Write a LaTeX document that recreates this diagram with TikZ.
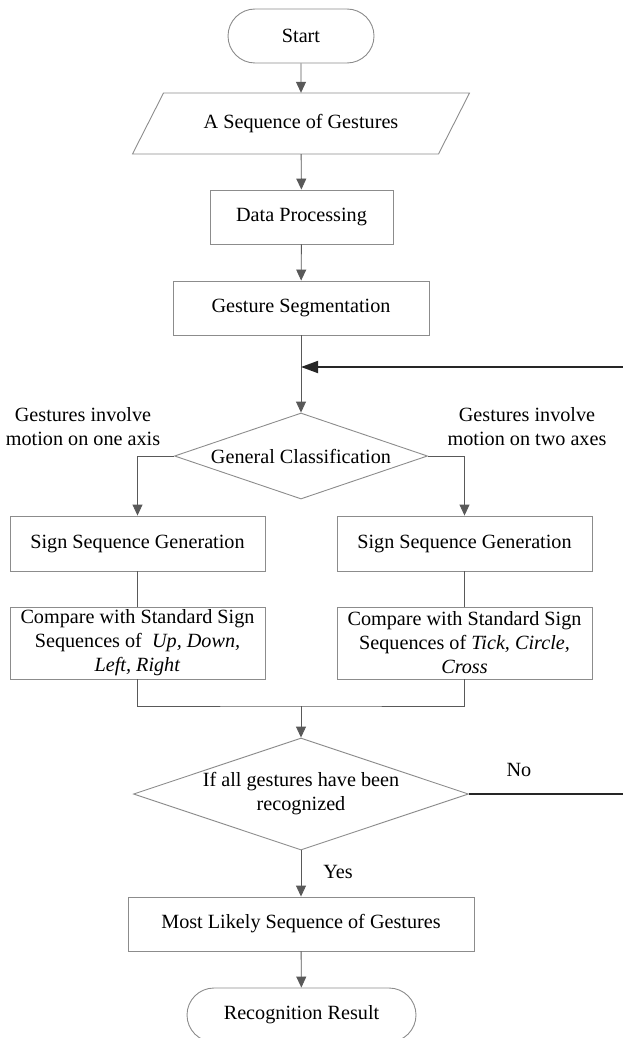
\documentclass[tikz,border=0pt]{standalone}
\usepackage{fontspec}
\setmainfont{Liberation Serif}
\usetikzlibrary{shapes.misc,shapes.geometric,arrows.meta}
\tikzset{
  boxline/.style={draw=black!45, line width=0.9pt},
  procbox/.style={boxline, rectangle, inner sep=0pt, align=center},
  termbox/.style={boxline, rounded rectangle, inner sep=0pt},
  decbox/.style={boxline, diamond, inner sep=0pt, align=center},
  conn/.style={draw=black!65, line width=0.9pt},
  arr/.style={conn, -{Triangle[length=11pt,width=10pt]}},
  fb/.style={draw=black!85, line width=1.8pt, -{Triangle[length=17pt,width=12pt]}},
  lbl/.style={align=center, inner sep=0pt}
}
\begin{document}
\begin{tikzpicture}[x=1pt, y=-1pt, font=\fontsize{20.2}{24}\selectfont]
\useasboundingbox (0,0) rectangle (623,1038);
\node[termbox, minimum width=146pt, minimum height=54pt] (start) at (301,36) {Start};
\draw[boxline] (132.5,154) -- (163.5,93) -- (469.5,93) -- (438.5,154) -- cycle;
\node[inner sep=0pt, minimum width=305pt, minimum height=61pt] (seq) at (301,123.5) {A Sequence of Gestures};
\node[procbox, minimum width=183pt, minimum height=54pt] (dp) at (301.5,217) {Data Processing};
\node[procbox, minimum width=256pt, minimum height=54pt] (seg) at (301,308) {Gesture Segmentation};
\coordinate (j1) at (301,367);
\node[decbox, aspect=3, minimum width=253pt, minimum height=86pt] (cls) at (301,456) {General Classification};
\node[lbl] (lblL) at (83,427) {Gestures involve\\motion on one axis};
\node[lbl] (lblR) at (527,427) {Gestures involve\\motion on two axes};
\node[procbox, minimum width=255pt, minimum height=55pt] (sigL) at (137.5,543.5) {Sign Sequence Generation};
\node[procbox, minimum width=255pt, minimum height=55pt] (sigR) at (464.5,543.5) {Sign Sequence Generation};
\node[procbox, minimum width=255pt, minimum height=72pt] (cmpL) at (137.5,643) {Compare with Standard Sign\\Sequences of\ \ \textit{Up, Down,}\\\textit{Left, Right}};
\node[procbox, minimum width=255pt, minimum height=72pt] (cmpR) at (464.5,643) {Compare with Standard Sign\\Sequences of \textit{Tick, Circle,}\\\textit{Cross}};
\coordinate (m) at (301,706);
\node[decbox, aspect=3, minimum width=335pt, minimum height=112pt] (dec) at (301,794) {If all gestures have been\\recognized};
\node[lbl] (no) at (519,770) {No};
\node[lbl] (yes) at (338,872) {Yes};
\node[procbox, minimum width=346pt, minimum height=54pt] (ml) at (301,924) {Most Likely Sequence of Gestures};
\node[termbox, minimum width=229pt, minimum height=54pt] (res) at (301.5,1015) {Recognition Result};

\draw[arr] (start) -- (seq);
\draw[arr] (seq) -- (dp);
\draw[arr] (dp) -- (seg);
\draw[arr] (seg) -- (cls);
\draw[arr] (cls.west) -| (sigL.north);
\draw[arr] (cls.east) -| (sigR.north);
\draw[conn] (sigL) -- (cmpL);
\draw[conn] (sigR) -- (cmpR);
\draw[conn] (cmpL.south) |- (m) -| (cmpR.south);
\draw[arr] (m) -- (dec);
\draw[arr] (dec) -- (ml);
\draw[arr] (ml) -- (res);
\draw[fb] (dec.east) -- (628,794) -- (628,367) -- (j1);
\end{tikzpicture}
\end{document}
